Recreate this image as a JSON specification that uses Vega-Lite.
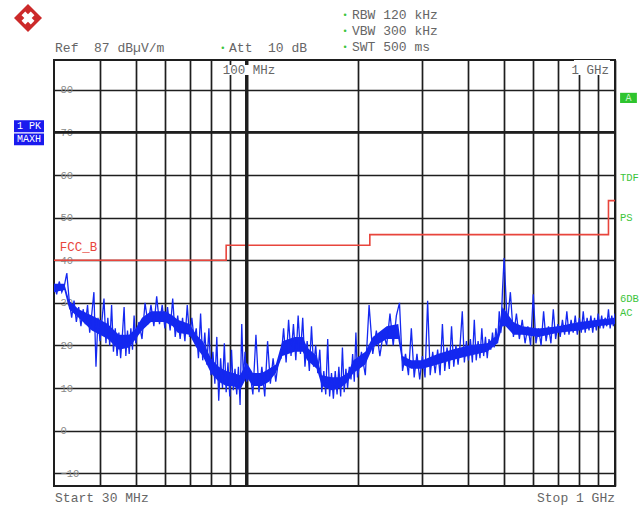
{
  "$schema": "https://vega.github.io/schema/vega-lite/v6.json",
  "width": 561,
  "height": 426,
  "autosize": "none",
  "padding": {"left": 54, "top": 60, "right": 27, "bottom": 20},
  "background": "white",
  "config": {
    "view": {"stroke": "#1e1e1e", "strokeWidth": 2}
  },
  "data": {"values": [{}]},
  "datasets": {
    "band": [
      {"f":30,"lo":32.5,"hi":34.5},{"f":32,"lo":33,"hi":34.5},{"f":33,"lo":28.5,"hi":30.5},{"f":35,"lo":26.5,"hi":28.5},{"f":38,"lo":23.5,"hi":27},{"f":40,"lo":22.5,"hi":26},{"f":42,"lo":21.5,"hi":25},{"f":45,"lo":19,"hi":22.5},{"f":48,"lo":19.5,"hi":22.5},{"f":50,"lo":21.5,"hi":24},{"f":52,"lo":23.5,"hi":26.5},{"f":55,"lo":25.5,"hi":28},{"f":60,"lo":25.5,"hi":28},{"f":63,"lo":24.5,"hi":27},{"f":65,"lo":23,"hi":26},{"f":70,"lo":22.5,"hi":25},{"f":73,"lo":19.5,"hi":22.5},{"f":76,"lo":17.5,"hi":21},{"f":80,"lo":13.5,"hi":17},{"f":84,"lo":11.5,"hi":15},{"f":88,"lo":10.5,"hi":14},{"f":92,"lo":10.5,"hi":13.5},{"f":96,"lo":9.5,"hi":13},{"f":100,"lo":12.5,"hi":16},{"f":104,"lo":10.5,"hi":13.5},{"f":110,"lo":10.5,"hi":13.5},{"f":115,"lo":11.5,"hi":14.5},{"f":120,"lo":13.5,"hi":15.5},{"f":125,"lo":17.5,"hi":21},{"f":135,"lo":18.5,"hi":22},{"f":142,"lo":18.5,"hi":22},{"f":146,"lo":16.5,"hi":19.5},{"f":155,"lo":14.5,"hi":17.5},{"f":160,"lo":10.5,"hi":13},{"f":170,"lo":9.5,"hi":12.5},{"f":180,"lo":10,"hi":12.5},{"f":188,"lo":11.5,"hi":13.5},{"f":195,"lo":13.5,"hi":16.5},{"f":210,"lo":15.5,"hi":18.5},{"f":220,"lo":19.5,"hi":22},{"f":240,"lo":21.5,"hi":24.5},{"f":258,"lo":21.5,"hi":25},{"f":265,"lo":15.5,"hi":17.5},{"f":280,"lo":14.5,"hi":16.5},{"f":300,"lo":14.5,"hi":16.5},{"f":330,"lo":15.5,"hi":18},{"f":360,"lo":16.5,"hi":19},{"f":400,"lo":17.5,"hi":20},{"f":450,"lo":18.5,"hi":20.5},{"f":480,"lo":20.5,"hi":22.5},{"f":495,"lo":24.5,"hi":29},{"f":505,"lo":24.5,"hi":28},{"f":530,"lo":22.5,"hi":25.5},{"f":560,"lo":22.5,"hi":24.5},{"f":620,"lo":22,"hi":24},{"f":700,"lo":23,"hi":24.5},{"f":800,"lo":23.5,"hi":25.5},{"f":900,"lo":24.5,"hi":26},{"f":1000,"lo":25,"hi":26.5}
    ],
    "trace": [
      {"f":30,"v":34.5},{"f":30.5,"v":32},{"f":31,"v":35},{"f":31.5,"v":32.5},{"f":32,"v":34},{"f":32.5,"v":37},{"f":33,"v":30.5},{"f":33.5,"v":26.5},{"f":34,"v":30.5},{"f":34.5,"v":25.5},{"f":35,"v":29},{"f":35.5,"v":24.5},{"f":36,"v":28.5},{"f":36.5,"v":25},{"f":37,"v":29.5},{"f":37.5,"v":23},{"f":38,"v":27.5},{"f":38.5,"v":32.5},{"f":39,"v":15},{"f":39.5,"v":26.5},{"f":40,"v":21},{"f":40.5,"v":26},{"f":41,"v":31},{"f":41.5,"v":20.5},{"f":42,"v":26.5},{"f":42.5,"v":20},{"f":43,"v":29.5},{"f":43.5,"v":18.5},{"f":44,"v":24},{"f":44.5,"v":17.5},{"f":45,"v":23},{"f":45.5,"v":17},{"f":46,"v":22.5},{"f":46.5,"v":29},{"f":47,"v":17.5},{"f":47.5,"v":23.5},{"f":48,"v":18},{"f":48.5,"v":24},{"f":49,"v":19},{"f":49.5,"v":27},{"f":50,"v":20.5},
      {"f":51,"v":25.5},{"f":52,"v":21.5},{"f":53,"v":30},{"f":54,"v":25},{"f":55,"v":29.5},{"f":56,"v":24.5},{"f":57,"v":31.5},{"f":58,"v":25},{"f":59,"v":29.5},{"f":60,"v":24},{"f":61,"v":29},{"f":62,"v":23.5},{"f":63,"v":31},{"f":64,"v":22},{"f":65,"v":27},{"f":66,"v":21.5},{"f":67,"v":26.5},{"f":68,"v":21},{"f":69,"v":29.5},{"f":70,"v":22},{"f":71,"v":26.5},{"f":72,"v":21.5},{"f":73,"v":24},{"f":74,"v":17},{"f":75,"v":27.5},{"f":76,"v":16.5},{"f":77,"v":23},{"f":78,"v":15.5},{"f":79,"v":24},{"f":80,"v":13},{"f":81,"v":18.5},{"f":82,"v":11},{"f":83,"v":22},{"f":84,"v":7},{"f":85,"v":17},{"f":86,"v":10},{"f":87,"v":20.5},{"f":88,"v":9},{"f":89,"v":16},{"f":90,"v":8},{"f":91,"v":19},{"f":92,"v":9.5},{"f":93,"v":14.5},{"f":94,"v":8.5},{"f":95,"v":15},{"f":96,"v":6},{"f":97,"v":25},{"f":98,"v":12},{"f":99,"v":18.5},{"f":100,"v":11.5},
      {"f":102,"v":14},{"f":104,"v":8.5},{"f":106,"v":22.5},{"f":108,"v":9},{"f":110,"v":15},{"f":112,"v":8},{"f":114,"v":21},{"f":116,"v":11},{"f":118,"v":17},{"f":120,"v":11.5},{"f":122,"v":16.5},{"f":124,"v":17},{"f":126,"v":24},{"f":128,"v":16},{"f":130,"v":26},{"f":132,"v":17.5},{"f":134,"v":25},{"f":136,"v":16.5},{"f":138,"v":27},{"f":140,"v":18},{"f":142,"v":26.5},{"f":144,"v":15},{"f":146,"v":21},{"f":148,"v":14},{"f":150,"v":24.5},{"f":152,"v":15},{"f":154,"v":20},{"f":156,"v":13.5},{"f":158,"v":19},{"f":160,"v":9},{"f":162,"v":14},{"f":164,"v":8.5},{"f":166,"v":21.5},{"f":168,"v":8},{"f":170,"v":13.5},{"f":172,"v":7.5},{"f":174,"v":14},{"f":176,"v":8.5},{"f":178,"v":15},{"f":180,"v":8},{"f":182,"v":19.5},{"f":184,"v":9},{"f":186,"v":14.5},{"f":188,"v":10},{"f":190,"v":15},{"f":192,"v":12},{"f":194,"v":18},{"f":196,"v":11.5},{"f":198,"v":23},{"f":200,"v":12.5},
      {"f":205,"v":18.5},{"f":210,"v":13},{"f":215,"v":29.5},{"f":220,"v":18},{"f":225,"v":23.5},{"f":230,"v":17.5},{"f":235,"v":23},{"f":240,"v":20},{"f":245,"v":27.5},{"f":250,"v":20},{"f":255,"v":27},{"f":260,"v":30},{"f":265,"v":14},{"f":270,"v":18},{"f":275,"v":13},{"f":280,"v":24},{"f":285,"v":12.5},{"f":290,"v":18},{"f":295,"v":12},{"f":300,"v":17.5},{"f":305,"v":12.5},{"f":310,"v":30.5},{"f":315,"v":13},{"f":320,"v":18.5},{"f":325,"v":13.5},{"f":330,"v":19},{"f":335,"v":13},{"f":340,"v":25},{"f":345,"v":14},{"f":350,"v":19.5},{"f":355,"v":14.5},{"f":360,"v":24.5},{"f":365,"v":15},{"f":370,"v":20},{"f":375,"v":15.5},{"f":380,"v":20.5},{"f":385,"v":28},{"f":390,"v":16},{"f":395,"v":21},{"f":400,"v":16.5},{"f":405,"v":21.5},{"f":410,"v":16},{"f":415,"v":26},{"f":420,"v":16.5},{"f":425,"v":21},{"f":430,"v":17},{"f":435,"v":24},{"f":440,"v":17.5},{"f":445,"v":22},{"f":450,"v":17},{"f":455,"v":21.5},{"f":460,"v":19},{"f":465,"v":23},{"f":470,"v":19.5},{"f":475,"v":24},{"f":480,"v":20.5},{"f":485,"v":28},{"f":490,"v":23},{"f":495,"v":33},{"f":500,"v":40.5},
      {"f":510,"v":25},{"f":520,"v":32.5},{"f":530,"v":22},{"f":540,"v":27.5},{"f":550,"v":21.5},{"f":560,"v":26},{"f":570,"v":20.5},{"f":580,"v":24.5},{"f":590,"v":20},{"f":600,"v":32},{"f":610,"v":20.5},{"f":620,"v":24},{"f":630,"v":20},{"f":640,"v":28},{"f":650,"v":21},{"f":660,"v":24.5},{"f":670,"v":20.5},{"f":680,"v":28.5},{"f":690,"v":21.5},{"f":700,"v":25},{"f":710,"v":22},{"f":720,"v":26},{"f":730,"v":22.5},{"f":740,"v":28},{"f":750,"v":22.5},{"f":760,"v":26},{"f":770,"v":23},{"f":780,"v":27},{"f":790,"v":22.5},{"f":800,"v":26.5},{"f":810,"v":23},{"f":820,"v":28},{"f":830,"v":23},{"f":840,"v":26.5},{"f":850,"v":23.5},{"f":860,"v":27},{"f":870,"v":23},{"f":880,"v":26.5},{"f":890,"v":23.5},{"f":900,"v":27.5},{"f":910,"v":24},{"f":920,"v":27},{"f":930,"v":24},{"f":940,"v":26.5},{"f":950,"v":24.5},{"f":960,"v":28.5},{"f":970,"v":24},{"f":980,"v":27},{"f":990,"v":24.5},{"f":1000,"v":27.5}
    ],
    "limit": [
      {"f":30,"v":40},{"f":88,"v":40},{"f":88,"v":43.5},{"f":216,"v":43.5},{"f":216,"v":46},{"f":960,"v":46},{"f":960,"v":54},{"f":1000,"v":54}
    ]
  },
  "layer": [
    {
      "data": {"name": "limit"},
      "mark": {"type": "line", "color": "#e8453c", "strokeWidth": 1.6},
      "encoding": {
        "x": {"field": "f", "type": "quantitative", "scale": {"type": "log", "domain": [30, 1000], "nice": false},
          "axis": {
            "orient": "top", "values": [40,50,60,70,80,90,100,200,300,400,500,600,700,800,900,1000],
            "grid": true, "gridColor": "#1e1e1e", "gridWidth": 1.7,
            "ticks": false, "domain": false, "title": null, "labels": false
          }
        },
        "y": {"field": "v", "type": "quantitative", "scale": {"domain": [-13, 87], "nice": false, "zero": false},
          "axis": {
            "orient": "left", "values": [-10,0,10,20,30,40,50,60,70,80],
            "grid": true, "gridColor": "#1e1e1e", "gridWidth": 1.7,
            "ticks": false, "domain": false, "title": null,
            "labelAlign": "left", "labelPadding": -6, "labelBaseline": "middle",
            "labelFont": "Liberation Mono", "labelFontSize": 10.5, "labelColor": "#888"
          }
        }
      }
    },
    {
      "mark": {"type": "rule", "color": "#1e1e1e", "strokeWidth": 3.2},
      "encoding": {"x": {"datum": 100, "type": "quantitative"}}
    },
    {
      "mark": {"type": "rule", "color": "#1e1e1e", "strokeWidth": 2.8},
      "encoding": {"y": {"datum": 70, "type": "quantitative"}}
    },
    {
      "mark": {"type": "point", "shape": "M-2.7,-0.5H2.7V0.5H-2.7Z", "filled": true, "color": "white", "size": 400, "opacity": 1},
      "encoding": {"x": {"datum": 101.5, "type": "quantitative"}, "y": {"datum": 84.65, "type": "quantitative"}}
    },
    {
      "mark": {"type": "point", "shape": "M-1.8,-0.75H1.8V0.75H-1.8Z", "filled": true, "color": "white", "size": 400, "opacity": 1},
      "encoding": {"x": {"datum": 866, "type": "quantitative"}, "y": {"datum": 85.24, "type": "quantitative"}}
    },
    {
      "mark": {"type": "text", "text": "100 MHz", "color": "#666", "font": "Liberation Mono", "fontSize": 12.5, "align": "center", "baseline": "middle"},
      "encoding": {"x": {"datum": 101.5, "type": "quantitative"}, "y": {"datum": 84.65, "type": "quantitative"}}
    },
    {
      "mark": {"type": "text", "text": "1 GHz", "color": "#666", "font": "Liberation Mono", "fontSize": 12.5, "align": "right", "baseline": "middle"},
      "encoding": {"x": {"datum": 963, "type": "quantitative"}, "y": {"datum": 84.65, "type": "quantitative"}}
    },
    {
      "data": {"name": "band"},
      "mark": {"type": "area", "color": "#1428f0", "opacity": 1, "clip": true},
      "encoding": {
        "x": {"field": "f", "type": "quantitative"},
        "y": {"field": "lo", "type": "quantitative"},
        "y2": {"field": "hi"}
      }
    },
    {
      "data": {"name": "trace"},
      "mark": {"type": "line", "color": "#1428f0", "strokeWidth": 1.3, "clip": true},
      "encoding": {
        "x": {"field": "f", "type": "quantitative"},
        "y": {"field": "v", "type": "quantitative"}
      }
    },
    {
      "mark": {"type": "text", "text": "FCC_B", "color": "#e8453c", "font": "Liberation Mono", "fontSize": 12.5, "align": "left", "baseline": "middle"},
      "encoding": {"x": {"datum": 31.1, "type": "quantitative"}, "y": {"datum": 43, "type": "quantitative"}}
    },
    {
      "mark": {"type": "text", "text": "Ref\u00a0\u00a087 dBµV/m", "color": "#666", "font": "Liberation Mono", "fontSize": 13, "align": "left", "baseline": "middle"},
      "encoding": {"x": {"datum": 30.2, "type": "quantitative"}, "y": {"datum": 89.8, "type": "quantitative"}}
    },
    {
      "mark": {"type": "text", "text": "Att\u00a0\u00a010 dB", "color": "#666", "font": "Liberation Mono", "fontSize": 13, "align": "left", "baseline": "middle"},
      "encoding": {"x": {"datum": 89.6, "type": "quantitative"}, "y": {"datum": 89.8, "type": "quantitative"}}
    },
    {
      "mark": {"type": "text", "text": "•", "color": "#3bc43b", "fontSize": 9, "align": "center", "baseline": "middle"},
      "encoding": {"x": {"datum": 86.2, "type": "quantitative"}, "y": {"datum": 89.8, "type": "quantitative"}}
    },
    {
      "mark": {"type": "text", "text": ["RBW 120 kHz", "VBW 300 kHz", "SWT 500 ms"], "lineHeight": 16, "color": "#666", "font": "Liberation Mono", "fontSize": 13, "align": "left", "baseline": "middle"},
      "encoding": {"x": {"datum": 193.2, "type": "quantitative"}, "y": {"datum": 97.5, "type": "quantitative"}}
    },
    {
      "mark": {"type": "text", "text": ["•", "•", "•"], "lineHeight": 16, "color": "#3bc43b", "fontSize": 9, "align": "center", "baseline": "middle"},
      "encoding": {"x": {"datum": 185, "type": "quantitative"}, "y": {"datum": 97.5, "type": "quantitative"}}
    },
    {
      "mark": {"type": "text", "text": "Start 30 MHz", "color": "#666", "font": "Liberation Mono", "fontSize": 13, "align": "left", "baseline": "middle"},
      "encoding": {"x": {"datum": 30.2, "type": "quantitative"}, "y": {"datum": -15.8, "type": "quantitative"}}
    },
    {
      "mark": {"type": "text", "text": "Stop 1 GHz", "color": "#666", "font": "Liberation Mono", "fontSize": 13, "align": "right", "baseline": "middle"},
      "encoding": {"x": {"datum": 1000, "type": "quantitative"}, "y": {"datum": -15.8, "type": "quantitative"}}
    },
    {
      "mark": {"type": "point", "shape": "M-1.4,-0.85H1.4V0.85H-1.4Z", "filled": true, "color": "#2ec42e", "size": 144, "opacity": 1},
      "encoding": {"x": {"datum": 1088, "type": "quantitative"}, "y": {"datum": 78.1, "type": "quantitative"}}
    },
    {
      "mark": {"type": "text", "text": "A", "color": "#c8f5c8", "font": "Liberation Mono", "fontSize": 10, "align": "center", "baseline": "middle"},
      "encoding": {"x": {"datum": 1088, "type": "quantitative"}, "y": {"datum": 78.1, "type": "quantitative"}}
    },
    {
      "mark": {"type": "text", "text": "TDF", "color": "#3bc43b", "font": "Liberation Mono", "fontSize": 10.5, "align": "left", "baseline": "middle"},
      "encoding": {"x": {"datum": 1031.7, "type": "quantitative"}, "y": {"datum": 59.3, "type": "quantitative"}}
    },
    {
      "mark": {"type": "text", "text": "PS", "color": "#3bc43b", "font": "Liberation Mono", "fontSize": 10.5, "align": "left", "baseline": "middle"},
      "encoding": {"x": {"datum": 1031.7, "type": "quantitative"}, "y": {"datum": 49.9, "type": "quantitative"}}
    },
    {
      "mark": {"type": "text", "text": ["6DB", "AC"], "lineHeight": 14, "color": "#3bc43b", "font": "Liberation Mono", "fontSize": 10.5, "align": "left", "baseline": "middle"},
      "encoding": {"x": {"datum": 1031.7, "type": "quantitative"}, "y": {"datum": 30.9, "type": "quantitative"}}
    },
    {
      "mark": {"type": "point", "shape": "M-1.5,-1.25H1.5V-0.07H-1.5ZM-1.5,0.07H1.5V1.25H-1.5Z", "filled": true, "color": "#1a1aee", "size": 400, "opacity": 1},
      "encoding": {"x": {"datum": 25.66, "type": "quantitative"}, "y": {"datum": 69.9, "type": "quantitative"}}
    },
    {
      "mark": {"type": "text", "text": ["1 PK", "MAXH"], "lineHeight": 13.2, "color": "white", "font": "Liberation Mono", "fontSize": 10, "align": "center", "baseline": "middle"},
      "encoding": {"x": {"datum": 25.66, "type": "quantitative"}, "y": {"datum": 71.45, "type": "quantitative"}}
    },
    {
      "mark": {"type": "point", "shape": "diamond", "filled": true, "color": "#cc2a2a", "size": 784, "opacity": 1},
      "encoding": {"x": {"datum": 25.5, "type": "quantitative"}, "y": {"datum": 96.86, "type": "quantitative"}}
    },
    {
      "mark": {"type": "point", "shape": "cross", "filled": true, "color": "white", "size": 170, "angle": 45, "opacity": 1},
      "encoding": {"x": {"datum": 25.5, "type": "quantitative"}, "y": {"datum": 96.86, "type": "quantitative"}}
    }
  ]
}
